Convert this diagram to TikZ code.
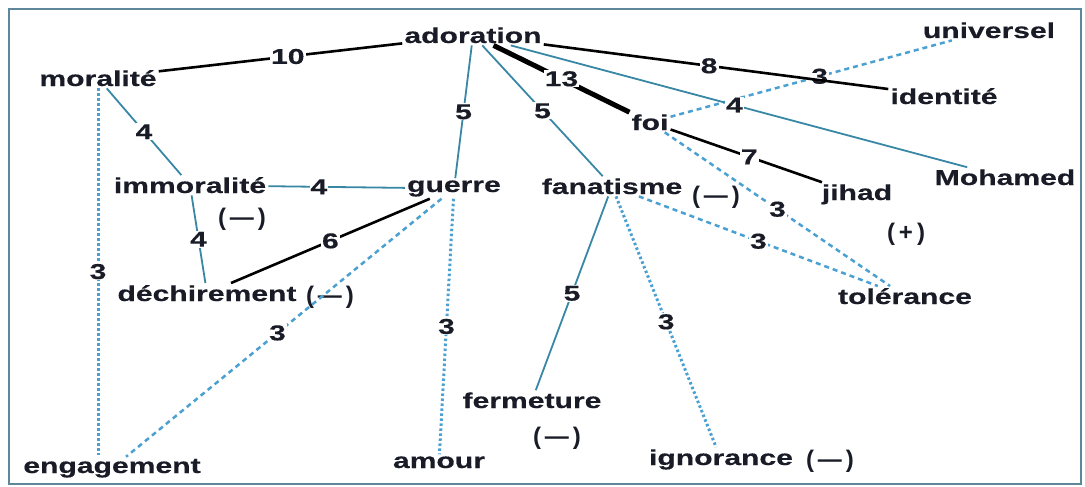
\documentclass[tikz,border=0pt]{standalone}
\usepackage{fontspec}
\newfontfamily\lblfont[FakeStretch=1.40,FakeBold=0.4]{Liberation Sans Bold}
\newfontfamily\parfont{Liberation Sans Bold}
\definecolor{txt}{RGB}{25,28,38}
\definecolor{teal}{RGB}{55,135,165}
\definecolor{lblue}{RGB}{75,160,210}
\definecolor{frame}{RGB}{95,135,155}
\tikzset{
  word/.style={font={\lblfont\fontsize{21.5}{23}\selectfont}, text=txt, inner sep=2pt, anchor=base},
  sign/.style={font={\parfont\fontsize{24}{26}\selectfont}, text=txt, inner sep=1pt},
  lbl/.style={font={\lblfont\fontsize{21.5}{23}\selectfont}, text=txt, fill=white, inner sep=1pt},
  blk/.style={draw=black, line width=2.6pt},
  blkthick/.style={draw=black, line width=5pt},
  tl/.style={draw=teal, line width=1.8pt},
  dotl/.style={draw=lblue, line width=3pt, dash pattern=on 2.5pt off 2.5pt},
  dashl/.style={draw=lblue, line width=2.5pt, dash pattern=on 5pt off 4pt},
}
\begin{document}
\begin{tikzpicture}[x=1pt,y=-1pt]
\useasboundingbox (0,0) rectangle (1085,487);
\draw[frame, line width=2.5pt] (9,9) rectangle (1081,484);
% words
\node[word] (adoration) at (473,43) {adoration};
\node[word] (universel) at (989,38) {universel};
\node[word] (moralite) at (98,86) {moralité};
\node[word] (identite) at (944,104) {identité};
\node[word] (foi) at (650,130) {foi};
\node[word] (immoralite) at (190,193) {immoralité};
\node[word] (guerre) at (454,192) {guerre};
\node[word] (fanatisme) at (612,194) {fanatisme};
\node[sign] (mfan) at (716,197) {(\,—\,)};
\node[word] (jihad) at (857,200) {jihad};
\node[word] (mohamed) at (1005,185) {Mohamed};
\node[sign] (plus) at (906,234) {(\,+\,)};
\node[sign] (mimm) at (242,219) {(\,—\,)};
\node[word] (dechirement) at (207,301) {déchirement};
\node[sign] (mdech) at (330,297) {(\,—\,)};
\node[word] (tolerance) at (905,304) {tolérance};
\node[word] (fermeture) at (532,408) {fermeture};
\node[sign] (mferm) at (557,438) {(\,—\,)};
\node[word] (engagement) at (112,473) {engagement};
\node[word] (amour) at (439,468) {amour};
\node[word] (ignorance) at (721,465) {ignorance};
\node[sign] (mign) at (830,461) {(\,—\,)};
\coordinate (engtop) at ([yshift=2pt]moralite |- engagement.north);
% edges
\draw[dashl] (foi) -- node[lbl,pos=.53] {3} (universel);
\draw[dashl] (foi) -- node[lbl,pos=.5] {3} (tolerance);
\draw[dashl] (fanatisme) -- node[lbl,pos=.5] {3} (tolerance);
\draw[dashl] (guerre) -- node[lbl,pos=.52] {3} (engagement);
\draw[dotl] (moralite) -- node[lbl,pos=.5] {3} (engtop);
\draw[dotl] (guerre) -- node[lbl,pos=.5] {3} (amour);
\draw[dotl] (fanatisme) -- node[lbl,pos=.5] {3} (ignorance);
\draw[tl] (adoration) -- node[lbl,pos=.5] {5} (guerre);
\draw[tl] (adoration) -- node[lbl,pos=.5] {5} (fanatisme);
\draw[tl] (adoration) -- node[lbl,pos=.49] {4} (mohamed);
\draw[tl] (fanatisme) -- node[lbl,pos=.5] {5} (fermeture);
\draw[tl] (moralite) -- node[lbl,pos=.5] {4} (immoralite);
\draw[tl] (immoralite) -- node[lbl,pos=.37] {4} (guerre);
\draw[tl] (immoralite) -- node[lbl,pos=.5] {4} (dechirement);
\draw[blk] (adoration) -- node[lbl,pos=.47] {10} (moralite);
\draw[blk] (adoration) -- node[lbl,pos=.48] {8} (identite);
\draw[blkthick] (adoration) -- node[lbl,pos=.5] {13} (foi);
\draw[blk] (foi) -- node[lbl,pos=.52] {7} (jihad);
\draw[blk] (guerre) -- node[lbl,pos=.5] {6} (dechirement);
\end{tikzpicture}
\end{document}
